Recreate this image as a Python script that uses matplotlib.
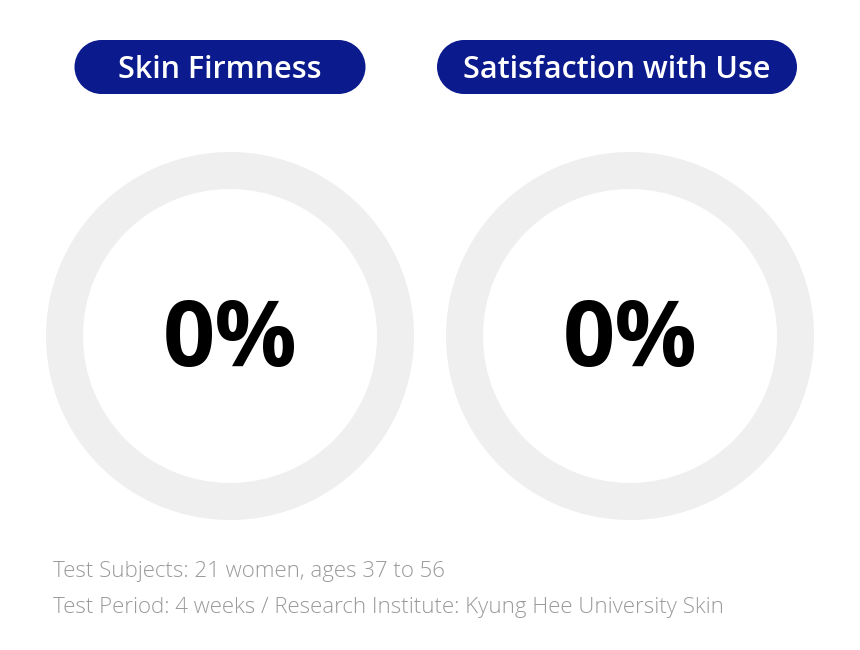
import matplotlib.pyplot as plt
from matplotlib.patches import Wedge, Rectangle, Circle

labels = ['Skin Firmness', 'Satisfaction with Use']
values = [0, 0]  # percent
notes = ['Test Subjects: 21 women, ages 37 to 56',
         'Test Period: 4 weeks / Research Institute: Kyung Hee University Skin']

navy = '#0b1a8c'
ring_gray = '#efefef'

fig = plt.figure(figsize=(8.6, 6.5), dpi=100)
ax = fig.add_axes([0, 0, 1, 1])
ax.set_xlim(0, 860)
ax.set_ylim(650, 0)
ax.set_aspect('equal')
ax.axis('off')

ring_cx = [230, 630]
pill_cx = [220, 617]
pill_w = [291, 360]

for i, lab in enumerate(labels):
    # pill label: rectangle with round ends
    w, h = pill_w[i], 54
    r = h / 2
    left, right = pill_cx[i] - w / 2 + r, pill_cx[i] + w / 2 - r
    ax.add_patch(Rectangle((left, 40), right - left, h, fc=navy, ec='none'))
    ax.add_patch(Circle((left, 40 + r), r, fc=navy, ec='none'))
    ax.add_patch(Circle((right, 40 + r), r, fc=navy, ec='none'))
    ax.text(pill_cx[i], 70, lab, color='white', fontsize=22, fontweight='semibold',
            family='Open Sans', ha='center', va='center')

    # ring background and progress
    ax.add_patch(Wedge((ring_cx[i], 336), 184, 0, 360, width=37, fc=ring_gray, ec='none'))
    if values[i] > 0:
        ax.add_patch(Wedge((ring_cx[i], 336), 184, 90 - values[i] * 3.6, 90,
                           width=37, fc=navy, ec='none'))
    ax.text(ring_cx[i], 342, f'{values[i]}%', fontsize=66, fontweight='bold',
            family='Open Sans', ha='center', va='center', color='black')

for j, t in enumerate(notes):
    ax.text(53, 572 + j * 35, t, fontsize=16, color='#9a9a9a', family='Open Sans',
            fontweight='light', ha='left', va='center')

fig.savefig('out.png', dpi=100)
